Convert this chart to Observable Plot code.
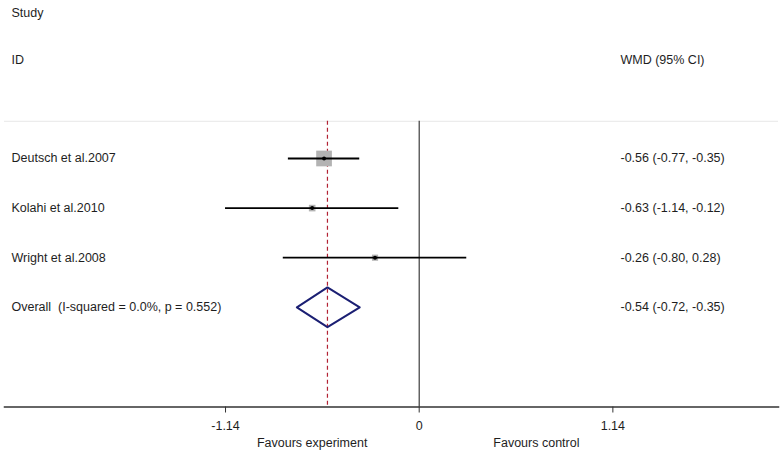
<!DOCTYPE html>
<html>
<head>
<meta charset="utf-8">
<script src="https://cdn.jsdelivr.net/npm/d3@7"></script>
<script src="https://cdn.jsdelivr.net/npm/@observablehq/plot@0.6"></script>
<style>
  html, body { margin: 0; padding: 0; background: #fff; }
  #chart svg { display: block; font-family: "Liberation Sans", Arial, sans-serif; }
</style>
</head>
<body>
<div id="chart"></div>
<script>
// ---- data ----
const studies = ["Deutsch et al.2007", "Kolahi et al.2010", "Wright et al.2008"];
const estimates = [-0.56, -0.63, -0.26];
const lower = [-0.77, -1.14, -0.80];
const upper = [-0.35, -0.12, 0.28];
const weights = [75.1, 13.3, 11.6]; // % weight (box area)
const overallLabel = "Overall  (I-squared = 0.0%, p = 0.552)";
const overall = {est: -0.54, lo: -0.72, hi: -0.35};
const ciText = ["-0.56 (-0.77, -0.35)", "-0.63 (-1.14, -0.12)", "-0.26 (-0.80, 0.28)", "-0.54 (-0.72, -0.35)"];
const xTicks = [-1.14, 0, 1.14];
const xTickLabels = ["-1.14", "0", "1.14"];
const favourLabels = ["Favours experiment", "Favours control"];
const favourX = [-0.63, 0.69];
const headersLeft = ["Study", "ID"];
const headerRight = "WMD (95% CI)";

// rows: 0..2 studies, 3 overall; headers above
const headerRows = [-2.94, -1.976];
const topRow = -0.75;
const axisRow = 5.01;
const diamondHalf = 0.4;

const rows = studies.map((s, i) => ({
  study: s, est: estimates[i], lo: lower[i], hi: upper[i], w: weights[i], row: i
}));
const diamond = [
  {x: overall.lo, y: 3},
  {x: overall.est, y: 3 - diamondHalf},
  {x: overall.hi, y: 3},
  {x: overall.est, y: 3 + diamondHalf},
  {x: overall.lo, y: 3}
];
const labelRows = [...studies, overallLabel].map((t, i) => ({t, row: i, ci: ciText[i]}));

const txt = "#1e1e1e";
const chart = Plot.plot({
  width: 782,
  height: 454,
  marginTop: 0,
  marginBottom: 47.5,
  marginLeft: 4,
  marginRight: 4,
  style: {fontFamily: "'Liberation Sans', Arial, sans-serif", fontSize: "12.5px", color: txt, background: "#fff"},
  x: {domain: [-2.441, 2.115]},
  y: {domain: [-3.185, axisRow], reverse: true, axis: null},
  r: {type: "sqrt", domain: [0, 75.1], range: [0, 8.86]},
  marks: [
    // faint top separator
    Plot.ruleY([topRow], {stroke: "#ececec", strokeWidth: 1.2}),
    // zero line
    Plot.ruleX([0], {y1: topRow, y2: axisRow, stroke: "#2a2a2a", strokeWidth: 1.1}),
    // overall dashed line
    Plot.ruleX([overall.est], {y1: topRow, y2: axisRow, stroke: "#b22234", strokeWidth: 1.2, strokeDasharray: "4,3"}),
    // weight boxes
    Plot.dot(rows, {x: "est", y: "row", r: "w", symbol: "square", fill: "#b3b3b3", stroke: "none"}),
    // CI lines
    Plot.ruleY(rows, {y: "row", x1: "lo", x2: "hi", stroke: "#000", strokeWidth: 1.8}),
    // point estimates
    Plot.dot(rows, {x: "est", y: "row", r: 2, fill: "#000", stroke: "none"}),
    // overall diamond
    Plot.line(diamond, {x: "x", y: "y", stroke: "#1b1f73", strokeWidth: 2, curve: "linear"}),
    // axis
    Plot.frame({anchor: "bottom", stroke: "#333", strokeWidth: 1.5}),
    Plot.axisX({ticks: xTicks, tickFormat: (d) => xTickLabels[xTicks.indexOf(d)], tickSize: 6, tickPadding: 8, stroke: "#333", fill: txt, fontSize: 12.5, label: null}),
    Plot.text(favourLabels, {x: (d, i) => favourX[i], text: d => d, frameAnchor: "bottom", dy: 40, fill: txt, fontSize: 12.5}),
    // left labels
    Plot.text(headersLeft, {y: (d, i) => headerRows[i], text: d => d, frameAnchor: "left", dx: 7, textAnchor: "start", fill: txt, fontSize: 12.5}),
    Plot.text(labelRows, {y: "row", text: "t", frameAnchor: "left", dx: 7, textAnchor: "start", fill: txt, fontSize: 12.5}),
    // right column
    Plot.text([headerRight], {y: headerRows[1], text: d => d, frameAnchor: "right", dx: -158, textAnchor: "start", fill: txt, fontSize: 12.5}),
    Plot.text(labelRows, {y: "row", text: "ci", frameAnchor: "right", dx: -158, textAnchor: "start", fill: txt, fontSize: 12.5})
  ]
});
document.getElementById("chart").appendChild(chart);
</script>
</body>
</html>
